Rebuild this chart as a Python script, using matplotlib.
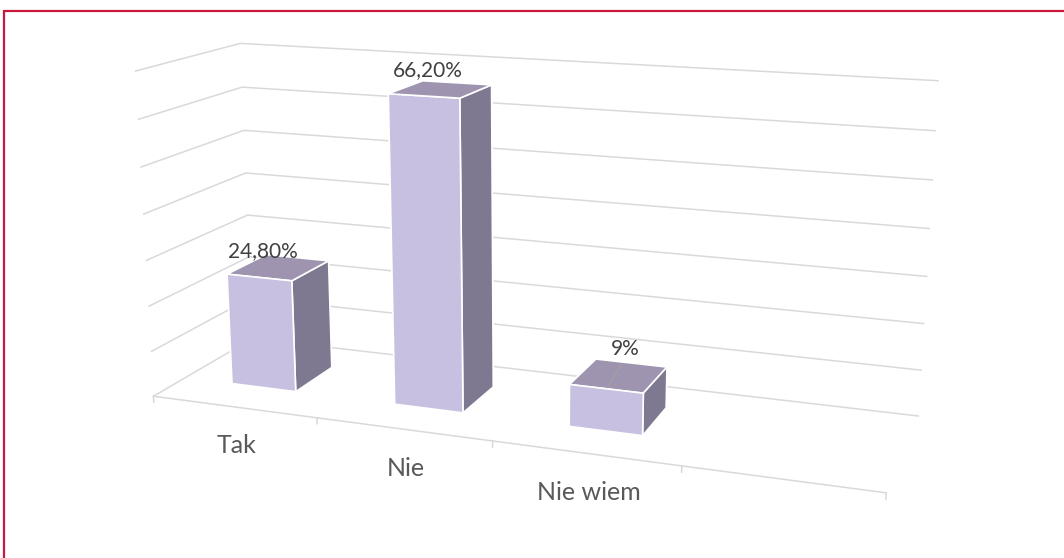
import matplotlib
matplotlib.use("Agg")
import numpy as np
import matplotlib.pyplot as plt
from matplotlib.patches import Rectangle
from matplotlib.transforms import offset_copy

categories = ["Tak", "Nie", "Nie wiem"]
values = [24.8, 66.2, 9.0]
value_labels = ["24,80%", "66,20%", "9%"]
n_slots = 4  # the chart keeps one empty slot on the right
z_ticks = np.arange(0, 71, 10)

# label placement (pixels); the last label was dragged, with a leader line
label_nudge = [(4, 26), (4, 26), (19, 40)]
has_leader = [False, False, True]

plt.rcParams['font.family'] = ['Lato', 'DejaVu Sans']

W, H = 1064, 558
fig = plt.figure(figsize=(W / 100, H / 100), dpi=100)

# square 3d axes (taller than the figure), centred on the box centre
side = 832
cx, cy = 530, 313
ax = fig.add_axes([(cx - 0.5135 * side) / W, (cy - 0.5135 * side) / H,
                   side / W, side / H], projection='3d')
ax.set_box_aspect((1, 0.28, 0.45))
ax.view_init(elev=14.5, azim=-70)
ax.set_proj_type('persp', focal_length=0.387)
ax.set_xlim(0, n_slots)
ax.set_ylim(0, 1)
ax.set_zlim(0, z_ticks[-1])
ax.set_facecolor('none')
ax.computed_zorder = False

grid_col = '#d9d9d9'
for axis in (ax.xaxis, ax.yaxis, ax.zaxis):
    axis.set_pane_color((1, 1, 1, 0))
    axis._axinfo['tick']['inward_factor'] = 0
    axis._axinfo['tick']['outward_factor'] = 0
    axis.set_tick_params(labelbottom=False, labeltop=False)
ax.xaxis._axinfo['grid']['color'] = (1, 1, 1, 0)
ax.yaxis._axinfo['grid']['color'] = (1, 1, 1, 0)
ax.zaxis._axinfo['grid'].update(color=grid_col, linewidth=1.1)
ax.xaxis.line.set_color(grid_col)
ax.xaxis.line.set_linewidth(1.1)
ax.yaxis.line.set_color('none')
ax.zaxis.line.set_color('none')
ax.set_xticks(range(n_slots + 1))
ax.set_yticks([])
ax.set_zticks(z_ticks)

# small tick marks under the front floor edge
for t in range(n_slots + 1):
    ax.plot([t, t], [0, 0], [0, -1.3], color=grid_col, lw=1.1, zorder=1)

# bars
bar_w = 0.4
xs = np.arange(len(values)) + (1 - bar_w) / 2
y0 = (1 - bar_w) / 2
c_front, c_side, c_top = '#c8c0e0', '#7e7891', '#9e94b0'
facecolors = []
for _ in values:
    # -z, +z, -y, +y, -x, +x
    facecolors += [c_top, c_top, c_front, c_front, c_front, c_side]
ax.bar3d(xs, np.full(len(values), y0), np.zeros(len(values)),
         bar_w, bar_w, values, color=facecolors, shade=False,
         edgecolor='white', linewidth=1.2, zorder=2)

for x, v, lab, (dx, dy), lead in zip(xs, values, value_labels,
                                     label_nudge, has_leader):
    ax.text(x + bar_w / 2, y0, v, lab, ha='center', va='center',
            fontsize=15, color='#404040',
            transform=offset_copy(ax.transData, fig=fig, x=dx, y=dy,
                                  units='dots'))
    if lead:
        ax.plot([x + bar_w / 2, x + 0.4 * bar_w], [y0 + 0.02, y0 + 0.9 * bar_w],
                [v, v], color='#a0a0a0', lw=1.0, zorder=3)

for i, cat in enumerate(categories):
    ax.text(i + 0.5, 0, 0, cat, ha='center', va='center',
            fontsize=18, color='#595959',
            transform=offset_copy(ax.transData, fig=fig, x=3, y=-39,
                                  units='dots'))

# outer frame
fig.add_artist(Rectangle((4 / W, -0.1), 1.2, 1 - 11.5 / H + 0.1,
                         transform=fig.transFigure, fill=False,
                         edgecolor='#c8193c', linewidth=1.6))

fig.savefig('out.png', dpi=100)
